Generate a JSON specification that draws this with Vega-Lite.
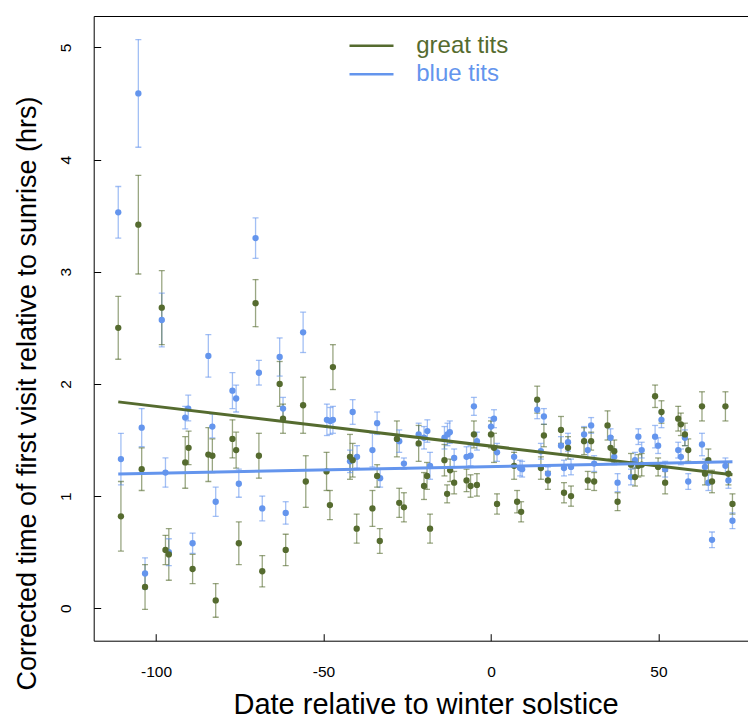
{
  "$schema": "https://vega.github.io/schema/vega-lite/v6.json",
  "width": 654.3,
  "height": 624.7,
  "autosize": "none",
  "padding": {"left": 93.7, "top": 16, "right": 0, "bottom": 81.3},
  "background": "white",
  "config": {
    "view": {"stroke": null},
    "font": "Liberation Sans",
    "axis": {
      "grid": false,
      "domainColor": "black",
      "domainWidth": 1,
      "tickColor": "black",
      "tickWidth": 1,
      "labelColor": "black",
      "labelFont": "Liberation Sans",
      "labelFontSize": 15.5,
      "titleFont": "Liberation Sans",
      "titleFontSize": 27,
      "titleFontWeight": "normal",
      "titleColor": "black"
    },
    "legend": {
      "orient": "none",
      "legendX": 265.8,
      "legendY": 17.7,
      "title": null,
      "padding": 0,
      "symbolType": "M-4.4,0H4.4",
      "symbolSize": 100,
      "symbolStrokeWidth": 2.5,
      "symbolOpacity": 1,
      "labelFont": "Liberation Sans",
      "labelFontSize": 24,
      "labelOffset": 32.7,
      "rowPadding": 4.6
    }
  },
  "datasets": {
    "visits": [
      {"sp": "blue tits", "d": -111.3, "t": 3.53, "lo": 3.30, "hi": 3.76},
      {"sp": "blue tits", "d": -110.5, "t": 1.33, "lo": 1.10, "hi": 1.56},
      {"sp": "blue tits", "d": -105.3, "t": 4.59, "lo": 4.11, "hi": 5.07},
      {"sp": "blue tits", "d": -104.3, "t": 1.61, "lo": 1.44, "hi": 1.78},
      {"sp": "blue tits", "d": -103.3, "t": 0.31, "lo": 0.17, "hi": 0.45},
      {"sp": "blue tits", "d": -98.3, "t": 2.57, "lo": 2.33, "hi": 2.81},
      {"sp": "blue tits", "d": -97.2, "t": 1.21, "lo": 1.08, "hi": 1.34},
      {"sp": "blue tits", "d": -96.2, "t": 0.50, "lo": 0.38, "hi": 0.62},
      {"sp": "blue tits", "d": -91.3, "t": 1.70, "lo": 1.60, "hi": 1.80},
      {"sp": "blue tits", "d": -90.4, "t": 1.78, "lo": 1.67, "hi": 1.90},
      {"sp": "blue tits", "d": -89.1, "t": 0.58, "lo": 0.49, "hi": 0.67},
      {"sp": "blue tits", "d": -84.4, "t": 2.25, "lo": 2.06, "hi": 2.44},
      {"sp": "blue tits", "d": -83.2, "t": 1.62, "lo": 1.52, "hi": 1.73},
      {"sp": "blue tits", "d": -82.2, "t": 0.95, "lo": 0.82, "hi": 1.08},
      {"sp": "blue tits", "d": -77.2, "t": 1.94, "lo": 1.78, "hi": 2.10},
      {"sp": "blue tits", "d": -76.1, "t": 1.87, "lo": 1.75, "hi": 1.99},
      {"sp": "blue tits", "d": -75.3, "t": 1.11, "lo": 0.99, "hi": 1.24},
      {"sp": "blue tits", "d": -70.3, "t": 3.30, "lo": 3.12, "hi": 3.48},
      {"sp": "blue tits", "d": -69.3, "t": 2.10, "lo": 1.99, "hi": 2.21},
      {"sp": "blue tits", "d": -68.3, "t": 0.89, "lo": 0.78, "hi": 1.00},
      {"sp": "blue tits", "d": -63.1, "t": 2.24, "lo": 2.07, "hi": 2.41},
      {"sp": "blue tits", "d": -62.1, "t": 1.78, "lo": 1.68, "hi": 1.88},
      {"sp": "blue tits", "d": -61.3, "t": 0.85, "lo": 0.75, "hi": 0.95},
      {"sp": "blue tits", "d": -56.1, "t": 2.46, "lo": 2.28, "hi": 2.64},
      {"sp": "blue tits", "d": -49.0, "t": 1.68, "lo": 1.54, "hi": 1.82},
      {"sp": "blue tits", "d": -48.0, "t": 1.67, "lo": 1.55, "hi": 1.79},
      {"sp": "blue tits", "d": -47.2, "t": 1.68, "lo": 1.56, "hi": 1.80},
      {"sp": "blue tits", "d": -42.1, "t": 1.31, "lo": 1.21, "hi": 1.41},
      {"sp": "blue tits", "d": -41.3, "t": 1.75, "lo": 1.64, "hi": 1.86},
      {"sp": "blue tits", "d": -40.0, "t": 1.35, "lo": 1.25, "hi": 1.45},
      {"sp": "blue tits", "d": -35.4, "t": 1.41, "lo": 1.26, "hi": 1.56},
      {"sp": "blue tits", "d": -34.0, "t": 1.65, "lo": 1.55, "hi": 1.75},
      {"sp": "blue tits", "d": -33.1, "t": 1.16, "lo": 1.08, "hi": 1.24},
      {"sp": "blue tits", "d": -27.4, "t": 1.49, "lo": 1.39, "hi": 1.59},
      {"sp": "blue tits", "d": -26.0, "t": 1.29, "lo": 1.24, "hi": 1.34},
      {"sp": "blue tits", "d": -21.6, "t": 1.55, "lo": 1.45, "hi": 1.65},
      {"sp": "blue tits", "d": -20.0, "t": 1.52, "lo": 1.42, "hi": 1.62},
      {"sp": "blue tits", "d": -19.0, "t": 1.58, "lo": 1.48, "hi": 1.68},
      {"sp": "blue tits", "d": -18.2, "t": 1.27, "lo": 1.15, "hi": 1.39},
      {"sp": "blue tits", "d": -13.9, "t": 1.52, "lo": 1.42, "hi": 1.62},
      {"sp": "blue tits", "d": -13.0, "t": 1.55, "lo": 1.45, "hi": 1.65},
      {"sp": "blue tits", "d": -12.3, "t": 1.57, "lo": 1.47, "hi": 1.67},
      {"sp": "blue tits", "d": -11.0, "t": 1.34, "lo": 1.26, "hi": 1.42},
      {"sp": "blue tits", "d": -7.3, "t": 1.35, "lo": 1.26, "hi": 1.44},
      {"sp": "blue tits", "d": -6.1, "t": 1.36, "lo": 1.27, "hi": 1.45},
      {"sp": "blue tits", "d": -5.1, "t": 1.80, "lo": 1.72, "hi": 1.88},
      {"sp": "blue tits", "d": -4.2, "t": 1.49, "lo": 1.41, "hi": 1.57},
      {"sp": "blue tits", "d": 0.0, "t": 1.62, "lo": 1.54, "hi": 1.70},
      {"sp": "blue tits", "d": 0.9, "t": 1.69, "lo": 1.61, "hi": 1.77},
      {"sp": "blue tits", "d": 1.8, "t": 1.39, "lo": 1.31, "hi": 1.47},
      {"sp": "blue tits", "d": 6.9, "t": 1.35, "lo": 1.28, "hi": 1.42},
      {"sp": "blue tits", "d": 8.7, "t": 1.25, "lo": 1.18, "hi": 1.32},
      {"sp": "blue tits", "d": 9.3, "t": 1.24, "lo": 1.17, "hi": 1.31},
      {"sp": "blue tits", "d": 13.8, "t": 1.77, "lo": 1.69, "hi": 1.85},
      {"sp": "blue tits", "d": 14.9, "t": 1.40, "lo": 1.33, "hi": 1.47},
      {"sp": "blue tits", "d": 15.8, "t": 1.71, "lo": 1.64, "hi": 1.78},
      {"sp": "blue tits", "d": 17.0, "t": 1.20, "lo": 1.14, "hi": 1.26},
      {"sp": "blue tits", "d": 20.9, "t": 1.45, "lo": 1.37, "hi": 1.53},
      {"sp": "blue tits", "d": 21.8, "t": 1.25, "lo": 1.18, "hi": 1.32},
      {"sp": "blue tits", "d": 23.0, "t": 1.48, "lo": 1.40, "hi": 1.56},
      {"sp": "blue tits", "d": 23.9, "t": 1.26, "lo": 1.19, "hi": 1.33},
      {"sp": "blue tits", "d": 27.8, "t": 1.55, "lo": 1.48, "hi": 1.62},
      {"sp": "blue tits", "d": 28.9, "t": 1.41, "lo": 1.34, "hi": 1.48},
      {"sp": "blue tits", "d": 29.9, "t": 1.63, "lo": 1.56, "hi": 1.70},
      {"sp": "blue tits", "d": 30.8, "t": 1.29, "lo": 1.22, "hi": 1.36},
      {"sp": "blue tits", "d": 35.7, "t": 1.52, "lo": 1.44, "hi": 1.60},
      {"sp": "blue tits", "d": 36.8, "t": 1.35, "lo": 1.28, "hi": 1.42},
      {"sp": "blue tits", "d": 37.8, "t": 1.12, "lo": 1.04, "hi": 1.20},
      {"sp": "blue tits", "d": 41.8, "t": 1.17, "lo": 1.10, "hi": 1.24},
      {"sp": "blue tits", "d": 43.0, "t": 1.32, "lo": 1.25, "hi": 1.39},
      {"sp": "blue tits", "d": 44.0, "t": 1.53, "lo": 1.46, "hi": 1.60},
      {"sp": "blue tits", "d": 45.0, "t": 1.41, "lo": 1.34, "hi": 1.48},
      {"sp": "blue tits", "d": 49.0, "t": 1.53, "lo": 1.43, "hi": 1.63},
      {"sp": "blue tits", "d": 49.9, "t": 1.45, "lo": 1.38, "hi": 1.52},
      {"sp": "blue tits", "d": 50.9, "t": 1.68, "lo": 1.61, "hi": 1.75},
      {"sp": "blue tits", "d": 52.0, "t": 1.24, "lo": 1.17, "hi": 1.31},
      {"sp": "blue tits", "d": 55.9, "t": 1.41, "lo": 1.34, "hi": 1.48},
      {"sp": "blue tits", "d": 56.7, "t": 1.35, "lo": 1.28, "hi": 1.42},
      {"sp": "blue tits", "d": 57.9, "t": 1.52, "lo": 1.45, "hi": 1.59},
      {"sp": "blue tits", "d": 58.9, "t": 1.13, "lo": 1.06, "hi": 1.20},
      {"sp": "blue tits", "d": 63.0, "t": 1.46, "lo": 1.36, "hi": 1.56},
      {"sp": "blue tits", "d": 63.9, "t": 1.26, "lo": 1.19, "hi": 1.33},
      {"sp": "blue tits", "d": 64.9, "t": 1.12, "lo": 1.05, "hi": 1.19},
      {"sp": "blue tits", "d": 66.0, "t": 0.61, "lo": 0.54, "hi": 0.68},
      {"sp": "blue tits", "d": 70.0, "t": 1.27, "lo": 1.20, "hi": 1.34},
      {"sp": "blue tits", "d": 70.9, "t": 1.14, "lo": 1.07, "hi": 1.21},
      {"sp": "blue tits", "d": 72.1, "t": 0.78, "lo": 0.71, "hi": 0.85},
      {"sp": "great tits", "d": -111.3, "t": 2.50, "lo": 2.22, "hi": 2.78},
      {"sp": "great tits", "d": -110.5, "t": 0.82, "lo": 0.51, "hi": 1.13},
      {"sp": "great tits", "d": -105.3, "t": 3.42, "lo": 2.98, "hi": 3.86},
      {"sp": "great tits", "d": -104.3, "t": 1.24, "lo": 1.05, "hi": 1.43},
      {"sp": "great tits", "d": -103.3, "t": 0.19, "lo": -0.01, "hi": 0.39},
      {"sp": "great tits", "d": -98.3, "t": 2.68, "lo": 2.35, "hi": 3.01},
      {"sp": "great tits", "d": -97.2, "t": 0.52, "lo": 0.39, "hi": 0.65},
      {"sp": "great tits", "d": -96.2, "t": 0.48, "lo": 0.25, "hi": 0.71},
      {"sp": "great tits", "d": -91.3, "t": 1.30, "lo": 1.07, "hi": 1.53},
      {"sp": "great tits", "d": -90.3, "t": 1.43, "lo": 1.28, "hi": 1.58},
      {"sp": "great tits", "d": -89.1, "t": 0.35, "lo": 0.22, "hi": 0.48},
      {"sp": "great tits", "d": -84.4, "t": 1.37, "lo": 1.13, "hi": 1.61},
      {"sp": "great tits", "d": -83.2, "t": 1.36, "lo": 1.21, "hi": 1.51},
      {"sp": "great tits", "d": -82.2, "t": 0.07, "lo": -0.08, "hi": 0.22},
      {"sp": "great tits", "d": -77.2, "t": 1.51, "lo": 1.34, "hi": 1.68},
      {"sp": "great tits", "d": -76.1, "t": 1.41, "lo": 1.25, "hi": 1.57},
      {"sp": "great tits", "d": -75.3, "t": 0.58, "lo": 0.39, "hi": 0.77},
      {"sp": "great tits", "d": -70.3, "t": 2.72, "lo": 2.51, "hi": 2.93},
      {"sp": "great tits", "d": -69.3, "t": 1.36, "lo": 1.16, "hi": 1.56},
      {"sp": "great tits", "d": -68.3, "t": 0.33, "lo": 0.19, "hi": 0.47},
      {"sp": "great tits", "d": -63.1, "t": 2.00, "lo": 1.80, "hi": 2.20},
      {"sp": "great tits", "d": -62.1, "t": 1.69, "lo": 1.56, "hi": 1.82},
      {"sp": "great tits", "d": -61.3, "t": 0.52, "lo": 0.38, "hi": 0.66},
      {"sp": "great tits", "d": -56.1, "t": 1.81, "lo": 1.56, "hi": 2.06},
      {"sp": "great tits", "d": -55.3, "t": 1.13, "lo": 0.90, "hi": 1.36},
      {"sp": "great tits", "d": -49.1, "t": 1.22, "lo": 1.05, "hi": 1.39},
      {"sp": "great tits", "d": -48.1, "t": 0.92, "lo": 0.79, "hi": 1.05},
      {"sp": "great tits", "d": -47.2, "t": 2.15, "lo": 1.95, "hi": 2.35},
      {"sp": "great tits", "d": -42.1, "t": 1.35, "lo": 1.15, "hi": 1.55},
      {"sp": "great tits", "d": -41.3, "t": 1.32, "lo": 1.17, "hi": 1.47},
      {"sp": "great tits", "d": -40.1, "t": 0.71, "lo": 0.58, "hi": 0.84},
      {"sp": "great tits", "d": -35.4, "t": 0.89, "lo": 0.73, "hi": 1.05},
      {"sp": "great tits", "d": -34.0, "t": 1.18, "lo": 1.08, "hi": 1.28},
      {"sp": "great tits", "d": -33.2, "t": 0.60, "lo": 0.49, "hi": 0.71},
      {"sp": "great tits", "d": -28.1, "t": 1.51, "lo": 1.35, "hi": 1.67},
      {"sp": "great tits", "d": -27.4, "t": 0.94, "lo": 0.81, "hi": 1.07},
      {"sp": "great tits", "d": -26.0, "t": 0.90, "lo": 0.77, "hi": 1.03},
      {"sp": "great tits", "d": -21.6, "t": 1.47, "lo": 1.31, "hi": 1.63},
      {"sp": "great tits", "d": -20.0, "t": 1.09, "lo": 0.97, "hi": 1.21},
      {"sp": "great tits", "d": -19.1, "t": 1.18, "lo": 1.06, "hi": 1.30},
      {"sp": "great tits", "d": -18.2, "t": 0.71, "lo": 0.58, "hi": 0.84},
      {"sp": "great tits", "d": -13.9, "t": 1.32, "lo": 1.18, "hi": 1.46},
      {"sp": "great tits", "d": -13.1, "t": 1.02, "lo": 0.94, "hi": 1.10},
      {"sp": "great tits", "d": -12.2, "t": 1.23, "lo": 1.13, "hi": 1.33},
      {"sp": "great tits", "d": -11.0, "t": 1.12, "lo": 1.02, "hi": 1.22},
      {"sp": "great tits", "d": -7.3, "t": 1.14, "lo": 1.04, "hi": 1.24},
      {"sp": "great tits", "d": -6.1, "t": 1.09, "lo": 0.99, "hi": 1.19},
      {"sp": "great tits", "d": -5.1, "t": 1.55, "lo": 1.43, "hi": 1.67},
      {"sp": "great tits", "d": -4.2, "t": 1.10, "lo": 1.00, "hi": 1.20},
      {"sp": "great tits", "d": 0.0, "t": 1.55, "lo": 1.43, "hi": 1.67},
      {"sp": "great tits", "d": 0.9, "t": 1.43, "lo": 1.30, "hi": 1.56},
      {"sp": "great tits", "d": 1.8, "t": 0.93, "lo": 0.84, "hi": 1.02},
      {"sp": "great tits", "d": 6.9, "t": 1.27, "lo": 1.15, "hi": 1.39},
      {"sp": "great tits", "d": 7.8, "t": 0.95, "lo": 0.85, "hi": 1.05},
      {"sp": "great tits", "d": 9.0, "t": 0.86, "lo": 0.77, "hi": 0.95},
      {"sp": "great tits", "d": 13.8, "t": 1.86, "lo": 1.74, "hi": 1.98},
      {"sp": "great tits", "d": 14.9, "t": 1.25, "lo": 1.15, "hi": 1.35},
      {"sp": "great tits", "d": 15.8, "t": 1.54, "lo": 1.44, "hi": 1.64},
      {"sp": "great tits", "d": 17.0, "t": 1.14, "lo": 1.06, "hi": 1.22},
      {"sp": "great tits", "d": 20.9, "t": 1.59, "lo": 1.47, "hi": 1.71},
      {"sp": "great tits", "d": 21.8, "t": 1.03, "lo": 0.94, "hi": 1.12},
      {"sp": "great tits", "d": 23.0, "t": 1.43, "lo": 1.33, "hi": 1.53},
      {"sp": "great tits", "d": 23.9, "t": 1.00, "lo": 0.91, "hi": 1.09},
      {"sp": "great tits", "d": 27.8, "t": 1.49, "lo": 1.37, "hi": 1.61},
      {"sp": "great tits", "d": 28.9, "t": 1.14, "lo": 1.06, "hi": 1.22},
      {"sp": "great tits", "d": 29.9, "t": 1.49, "lo": 1.41, "hi": 1.57},
      {"sp": "great tits", "d": 30.8, "t": 1.13, "lo": 1.05, "hi": 1.21},
      {"sp": "great tits", "d": 34.8, "t": 1.63, "lo": 1.50, "hi": 1.76},
      {"sp": "great tits", "d": 35.7, "t": 1.43, "lo": 1.33, "hi": 1.53},
      {"sp": "great tits", "d": 36.8, "t": 1.40, "lo": 1.30, "hi": 1.50},
      {"sp": "great tits", "d": 37.8, "t": 0.95, "lo": 0.87, "hi": 1.03},
      {"sp": "great tits", "d": 41.8, "t": 1.28, "lo": 1.18, "hi": 1.38},
      {"sp": "great tits", "d": 43.0, "t": 1.17, "lo": 1.09, "hi": 1.25},
      {"sp": "great tits", "d": 44.0, "t": 1.27, "lo": 1.17, "hi": 1.37},
      {"sp": "great tits", "d": 45.0, "t": 1.28, "lo": 1.18, "hi": 1.38},
      {"sp": "great tits", "d": 49.0, "t": 1.89, "lo": 1.79, "hi": 1.99},
      {"sp": "great tits", "d": 49.9, "t": 1.26, "lo": 1.18, "hi": 1.34},
      {"sp": "great tits", "d": 50.9, "t": 1.75, "lo": 1.65, "hi": 1.85},
      {"sp": "great tits", "d": 52.0, "t": 1.12, "lo": 1.02, "hi": 1.22},
      {"sp": "great tits", "d": 55.9, "t": 1.69, "lo": 1.58, "hi": 1.80},
      {"sp": "great tits", "d": 56.7, "t": 1.64, "lo": 1.54, "hi": 1.74},
      {"sp": "great tits", "d": 57.9, "t": 1.55, "lo": 1.45, "hi": 1.65},
      {"sp": "great tits", "d": 58.9, "t": 1.41, "lo": 1.31, "hi": 1.51},
      {"sp": "great tits", "d": 63.0, "t": 1.80, "lo": 1.67, "hi": 1.93},
      {"sp": "great tits", "d": 63.9, "t": 1.20, "lo": 1.10, "hi": 1.30},
      {"sp": "great tits", "d": 64.9, "t": 1.32, "lo": 1.22, "hi": 1.42},
      {"sp": "great tits", "d": 66.0, "t": 1.13, "lo": 1.03, "hi": 1.23},
      {"sp": "great tits", "d": 70.0, "t": 1.80, "lo": 1.67, "hi": 1.93},
      {"sp": "great tits", "d": 70.9, "t": 1.20, "lo": 1.10, "hi": 1.30},
      {"sp": "great tits", "d": 72.1, "t": 0.93, "lo": 0.84, "hi": 1.02}
    ],
    "fits": [
      {"sp": "great tits", "d": -111.3, "t": 1.84},
      {"sp": "great tits", "d": 72.1, "t": 1.19},
      {"sp": "blue tits", "d": -111.3, "t": 1.197},
      {"sp": "blue tits", "d": 72.1, "t": 1.307}
    ]
  },
  "resolve": {"axis": {"x": "independent"}},
  "layer": [
    {
      "data": {"name": "visits"},
      "mark": {"type": "rule", "strokeWidth": 1.3, "opacity": 0.6, "clip": true},
      "encoding": {
        "x": {
          "field": "d", "type": "quantitative",
          "scale": {"domain": [-118.63, 76.74], "nice": false, "zero": false},
          "axis": {
            "orient": "bottom",
            "values": [-100, -50, 0, 50],
            "labelExpr": "replace(datum.label, '−', '-')",
            "title": "Date relative to winter solstice",
            "tickSize": -7,
            "labelPadding": 42.3,
            "labelBaseline": "alphabetic",
            "labelFlush": false,
            "titleX": 331.9,
            "titleY": 72.3,
            "titleAlign": "center",
            "titleBaseline": "alphabetic",
            "titleFontSize": 29
          }
        },
        "y": {
          "field": "lo", "type": "quantitative",
          "scale": {"domain": [-0.289, 5.28], "nice": false, "zero": false},
          "axis": {
            "values": [0, 1, 2, 3, 4, 5],
            "format": "d",
            "title": "Corrected time of first visit relative to sunrise (hrs)",
            "tickSize": -7,
            "labelAngle": 270,
            "labelAlign": "center",
            "labelBaseline": "alphabetic",
            "labelPadding": 30.2,
            "labelFlush": false,
            "titleAngle": 270,
            "titleX": -58.1,
            "titleY": 377,
            "titleAlign": "center",
            "titleBaseline": "alphabetic",
            "titleFontSize": 27
          }
        },
        "y2": {"field": "hi"},
        "color": {
          "field": "sp", "type": "nominal",
          "scale": {"domain": ["great tits", "blue tits"], "range": ["#556B2F", "#6495ED"]},
          "legend": {
            "encode": {
              "symbols": {"update": {"stroke": {"scale": "color", "field": "value"}, "strokeWidth": {"value": 2.5}, "opacity": {"value": 1}}},
              "labels": {"update": {"fill": {"scale": "color", "field": "value"}}}
            }
          }
        }
      }
    },
    {
      "data": {"name": "visits"},
      "mark": {"type": "tick", "orient": "horizontal", "size": 6, "thickness": 1.3, "opacity": 0.6, "clip": true},
      "encoding": {
        "x": {"field": "d", "type": "quantitative", "axis": null},
        "y": {"field": "lo", "type": "quantitative"},
        "color": {"field": "sp", "type": "nominal"}
      }
    },
    {
      "data": {"name": "visits"},
      "mark": {"type": "tick", "orient": "horizontal", "size": 6, "thickness": 1.3, "opacity": 0.6, "clip": true},
      "encoding": {
        "x": {"field": "d", "type": "quantitative", "axis": null},
        "y": {"field": "hi", "type": "quantitative"},
        "color": {"field": "sp", "type": "nominal"}
      }
    },
    {
      "data": {"name": "visits"},
      "mark": {"type": "circle", "size": 40, "opacity": 1, "clip": true},
      "encoding": {
        "x": {"field": "d", "type": "quantitative", "axis": null},
        "y": {"field": "t", "type": "quantitative"},
        "color": {"field": "sp", "type": "nominal"}
      }
    },
    {
      "data": {"name": "fits"},
      "mark": {"type": "line", "strokeWidth": 3, "clip": true},
      "encoding": {
        "x": {
          "field": "d", "type": "quantitative",
          "axis": {"orient": "top", "labels": false, "ticks": false, "title": null, "domain": true}
        },
        "y": {"field": "t", "type": "quantitative"},
        "color": {"field": "sp", "type": "nominal"}
      }
    }
  ]
}
